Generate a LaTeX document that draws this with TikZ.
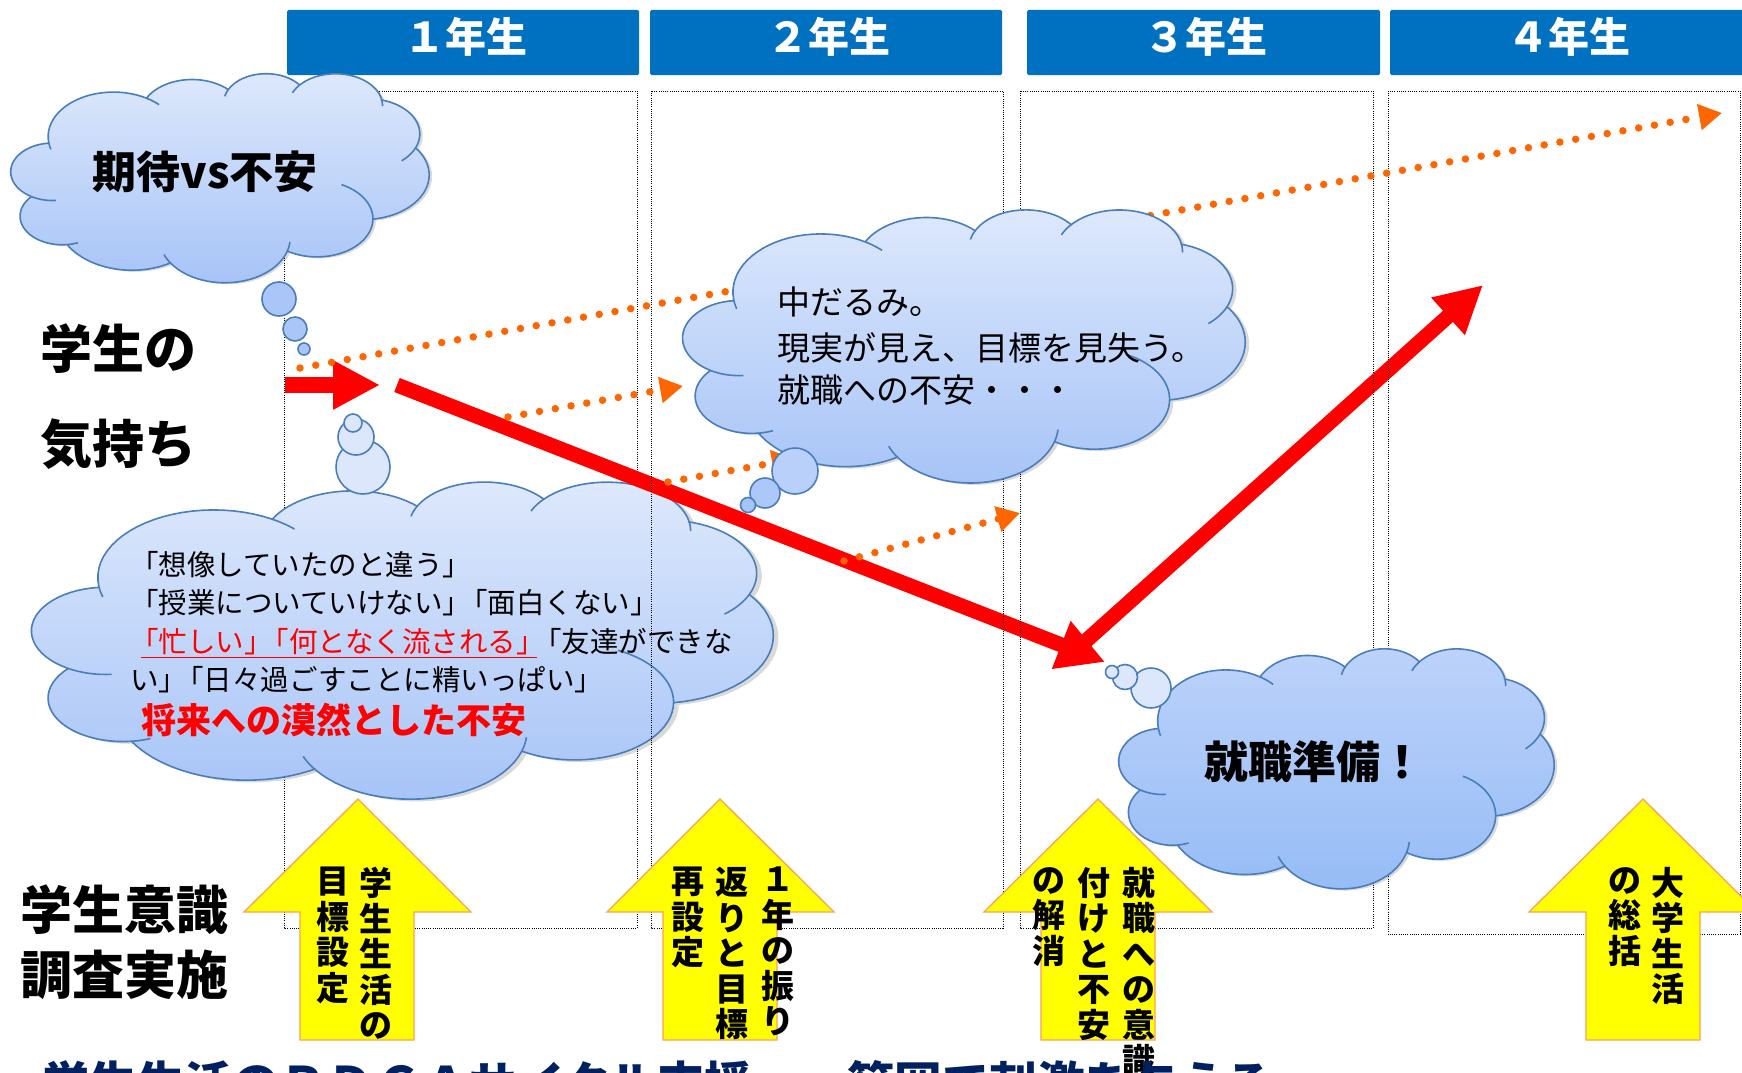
\documentclass[tikz,border=0pt]{standalone}
\usepackage{fontspec}
\setmainfont{Noto Sans CJK JP}
\usetikzlibrary{arrows.meta}
\definecolor{hdrblue}{HTML}{0070C0}
\definecolor{cedge}{HTML}{4A7EBB}
\definecolor{ctop}{HTML}{DDE8FC}
\definecolor{cbot}{HTML}{A7C4F7}
\definecolor{ctopB}{HTML}{BCD2FA}
\definecolor{cbotB}{HTML}{96BCF6}
\definecolor{orng}{HTML}{FF6600}
\definecolor{yfill}{HTML}{FFFF00}
\definecolor{yedge}{HTML}{F8A25A}
\definecolor{navy}{HTML}{002060}
\definecolor{bubA}{HTML}{AAC6F8}
\definecolor{bubL}{HTML}{DCE7FC}
\definecolor{bubM}{HTML}{B9D1FA}
\newcommand\kk{\kern-0.42em}

\newcommand\cloudmain[1]{%
\path[#1] plot[domain=-187.747:-59.63] ({105.913+67.53*cos(\x)},{131.313+91.90*sin(\x)})
 -- plot[domain=-152.02:-45.45] ({187.148+53.33*cos(\x)},{86.113+72.67*sin(\x)})
 -- plot[domain=-153.48:-37.33] ({263.619+43.65*cos(\x)},{60.875+59.45*sin(\x)})
 -- plot[domain=-139.69:-10.21] ({335.374+48.57*cos(\x)},{67.501+65.95*sin(\x)})
 -- plot[domain=-74.77:23.21] ({369.165+53.33*cos(\x)},{125.987+72.73*sin(\x)})
 -- plot[domain=-37.53:81.86] ({364.452+67.75*cos(\x)},{210.818+92.20*sin(\x)})
 -- plot[domain=0.46:121.98] ({316.197+57.85*cos(\x)},{301.459+78.67*sin(\x)})
 -- plot[domain=16.84:146.26] ({220.935+67.52*cos(\x)},{341.493+92.15*sin(\x)})
 -- plot[domain=58.99:150.20] ({125.018+77.20*cos(\x)},{302.311+105.43*sin(\x)})
 -- plot[domain=83.31:223.13] ({52.948+43.60*cos(\x)},{295.930+59.18*sin(\x)})
 -- plot[domain=120.36:264.11] ({43.091+43.45*cos(\x)},{204.179+59.45*sin(\x)})
 -- cycle;}
\newcommand\cloudinner[1]{%
\draw[#1] plot[domain=85.55:120.36] ({43.091+43.45*cos(\x)},{204.179+59.45*sin(\x)})
 plot[domain=68.23:83.31] ({52.948+43.60*cos(\x)},{295.930+59.18*sin(\x)})
 plot[domain=146.26:158.47] ({220.935+67.52*cos(\x)},{341.493+92.15*sin(\x)})
 plot[domain=4.74:16.84] ({220.935+67.52*cos(\x)},{341.493+92.15*sin(\x)})
 plot[domain=-64.02:0.46] ({316.197+57.85*cos(\x)},{301.459+78.67*sin(\x)})
 plot[domain=23.21:49.64] ({369.165+53.33*cos(\x)},{125.987+72.73*sin(\x)})
 plot[domain=-10.21:0.82] ({335.374+48.57*cos(\x)},{67.501+65.95*sin(\x)})
 plot[domain=-156.29:-139.69] ({335.374+48.57*cos(\x)},{67.501+65.95*sin(\x)})
 plot[domain=-167.72:-153.48] ({263.619+43.65*cos(\x)},{60.875+59.45*sin(\x)})
 plot[domain=-59.63:-45.76] ({105.913+67.53*cos(\x)},{131.313+91.90*sin(\x)})
 plot[domain=163.19:172.25] ({105.913+67.53*cos(\x)},{131.313+91.90*sin(\x)});}
\newcommand\pptcloud[5]{%
\begin{scope}[shift={(#1,#2)},xscale=#3/432,yscale=#4/432,samples=26]
\cloudmain{fill=black,fill opacity=0.15,xshift=3pt,yshift=-3pt}
\cloudmain{#5,draw=cedge,line width=1.6pt}
\cloudinner{cedge,line width=1.6pt}
\end{scope}}

\begin{document}
\begin{tikzpicture}[x=1pt,y=-1pt,
  hdrbox/.style={fill=hdrblue,draw=none,minimum height=65pt,inner sep=0pt,rounded corners=1.5pt},
  hdrtxt/.style={text=white,inner sep=0pt,font=\bfseries\fontsize{41}{41}\selectfont},
  colrect/.style={draw=black,line width=0.9pt,dash pattern=on 1pt off 1.2pt},
  bub/.style={draw=cedge,line width=1.6pt},
  redarr/.style={draw=red,line width=15pt},
  odot/.style={draw=orng,line width=7.5pt,line cap=round,dash pattern=on 0pt off 16pt,-{Triangle[length=23pt,width=25pt]}},
  yarr/.style={fill=yfill,draw=yedge,line width=1.3pt},
  lbl/.style={inner sep=0pt,font=\bfseries\fontsize{52}{52}\selectfont},
  c2t/.style={anchor=west,inner sep=0pt,font=\fontsize{33}{33}\selectfont},
  c3t/.style={anchor=west,inner sep=0pt,font=\fontsize{28.5}{28.5}\selectfont},
  tate/.style={anchor=north,inner sep=0pt,align=center,font=\bfseries\fontsize{33}{35.5}\selectfont}]
\useasboundingbox (0,0) rectangle (1742,1073);

% headers
\node[hdrbox,minimum width=352pt] (hb1) at (463,42.5) {};
\node[hdrbox,minimum width=352pt] (hb2) at (826,42.5) {};
\node[hdrbox,minimum width=353pt] (hb3) at (1203.5,42.5) {};
\node[hdrbox,minimum width=360pt] (hb4) at (1570,42.5) {};
\node[hdrtxt] (ht1) at (466,37) {１年生};
\node[hdrtxt] (ht2) at (829,37) {２年生};
\node[hdrtxt] (ht3) at (1206,37) {３年生};
\node[hdrtxt] (ht4) at (1569,37) {４年生};

% column 1 frame
\draw[colrect] (284,91) rectangle (637,928);

% cloud 1 and bubbles
\pptcloud{11}{73}{418}{209}{top color=ctop,bottom color=cbot}
\path[bub,fill=bubA] (279,299) circle[radius=17];
\path[bub,fill=bubA] (295,329) circle[radius=12];
\path[bub,fill=bubA] (304,349) circle[radius=6];

% cloud 3 and bubbles
\pptcloud{32}{481}{741}{317}{top color=ctop,bottom color=cbot}
\path[bub,fill=bubL] (363,467) circle[radius=27];
\path[bub,fill=bubL] (356,437) circle[radius=18];
\path[bub,fill=bubL] (353,423) circle[radius=9];

% red arrows
\coordinate (ra1s) at (285,385);
\coordinate (ra1e) at (380,385);
\coordinate (ra2s) at (397,385);
\coordinate (ra2e) at (1105,662);
\coordinate (ra3s) at (1078,648);
\coordinate (ra3e) at (1483,285);
\draw[redarr,line width=16pt,-{Triangle[length=47pt,width=46pt]}] (ra1s) -- (ra1e);
\draw[redarr,-{Triangle[length=47pt,width=48pt]}] (ra2s) -- (ra2e);
\draw[redarr,-{Triangle[length=47pt,width=47pt]}] (ra3s) -- (ra3e);

% column frames 2-4
\draw[colrect] (651,91) rectangle (1003,928);
\draw[colrect] (1020,91) rectangle (1373,928);
\draw[colrect] (1388,91) rectangle (1740,934);

% orange dotted arrows (behind cloud 2)
\coordinate (o1s) at (300,368);
\coordinate (o1e) at (1722,113);
\coordinate (o3s) at (668,482);
\coordinate (o3e) at (795,459);
\draw[odot] (o1s) -- (o1e);
\draw[odot] (o3s) -- (o3e);

% cloud 2 and bubbles
\pptcloud{683}{209}{562}{273}{top color=ctop,bottom color=cbot}
\path[bub,fill=bubM] (795,471) circle[radius=23];
\path[bub,fill=cbot!90!ctop] (765,493) circle[radius=15];
\path[bub,fill=cbot] (748,505) circle[radius=7.5];

% cloud 4 and bubbles
\pptcloud{1119}{648}{435}{240}{top color=ctopB,bottom color=cbotB}
\path[bub,fill=bubL] (1151,688) circle[radius=20];
\path[bub,fill=bubL] (1125,677) circle[radius=12.5];
\path[bub,fill=bubL] (1112,672) circle[radius=6.5];

% orange dotted arrows (front)
\coordinate (o2s) at (508,417);
\coordinate (o2e) at (683,386);
\coordinate (o4s) at (844,561);
\coordinate (o4e) at (1020,513);
\draw[odot] (o2s) -- (o2e);
\draw[odot] (o4s) -- (o4e);

% yellow arrows
\draw[yarr] (358,799) -- (471,912) -- (414,912) -- (414,1040) -- (300,1040) -- (300,912) -- (244,912) -- cycle;
\draw[yarr] (720,799) -- (834,912) -- (777,912) -- (777,1040) -- (663,1040) -- (663,912) -- (607,912) -- cycle;
\draw[yarr] (1098,799) -- (1212,912) -- (1155,912) -- (1155,1040) -- (1041,1040) -- (1041,912) -- (984,912) -- cycle;
\draw[yarr] (1643,799) -- (1757,912) -- (1700,912) -- (1700,1040) -- (1586,1040) -- (1586,912) -- (1529,912) -- cycle;

% texts
\node[inner sep=0pt,font=\bfseries\fontsize{44}{44}\selectfont] (c1t) at (205,172) {期待vs不安};
\node[inner sep=0pt,font=\bfseries\fontsize{44}{44}\selectfont] (c4t) at (1314,762) {就職準備！};

\node[c2t] (c2a) at (777,302) {中だるみ。};
\node[c2t] (c2b) at (777,348) {現実が見え、目標を見失う。};
\node[c2t] (c2c) at (777,390) {就職への不安・・・};

\node[c3t] (c3a) at (130,565) {「想像していたのと違う」};
\node[c3t] (c3b) at (130,603) {「授業についていけない」\kk「面白くない」};
\node[c3t,text=red] (c3c) at (130,642) {「忙しい」\kk「何となく流される」};
\node[c3t] (c3d) at ([xshift=-12pt]c3c.east) {「友達ができな};
\node[c3t] (c3e) at (130,680) {い」\kk「日々過ごすことに精いっぱい」};
\node[c3t,text=red,font=\bfseries\fontsize{35}{35}\selectfont] (c3f) at (141,720) {将来への漠然とした不安};
\draw[red,line width=1.6pt] ([xshift=11pt,yshift=-2pt]c3c.south west) -- ([xshift=-8pt,yshift=-2pt]c3c.south east);

\node[lbl] (k1) at (118,349) {学生の};
\node[lbl] (k2) at (118,444) {気持ち};
\node[lbl] (k3) at (124,910) {学生意識};
\node[lbl] (k4) at (124,975) {調査実施};

\node[tate] (y1a) at (376,867) {学\\生\\生\\活\\の};
\node[tate] (y1b) at (333,867) {目\\標\\設\\定};
\node[tate] (y2a) at (778,867) {１\\年\\の\\振\\り};
\node[tate] (y2b) at (732,867) {返\\り\\と\\目\\標};
\node[tate] (y2c) at (688,867) {再\\設\\定};
\node[tate] (y3a) at (1139,867) {就\\職\\へ\\の\\意\\識};
\node[tate] (y3b) at (1094,867) {付\\け\\と\\不\\安};
\node[tate] (y3c) at (1049,867) {の\\解\\消};
\node[tate] (y4a) at (1668,867) {大\\学\\生\\活};
\node[tate] (y4b) at (1625,867) {の\\総\\括};

\node[anchor=base west,inner sep=0pt,text=navy,font=\bfseries\fontsize{47.5}{47.5}\selectfont] (btm) at (42,1101) {学生生活のＰＤＣＡサイクル支援　　範囲で刺激を与える};
\end{tikzpicture}
\end{document}
